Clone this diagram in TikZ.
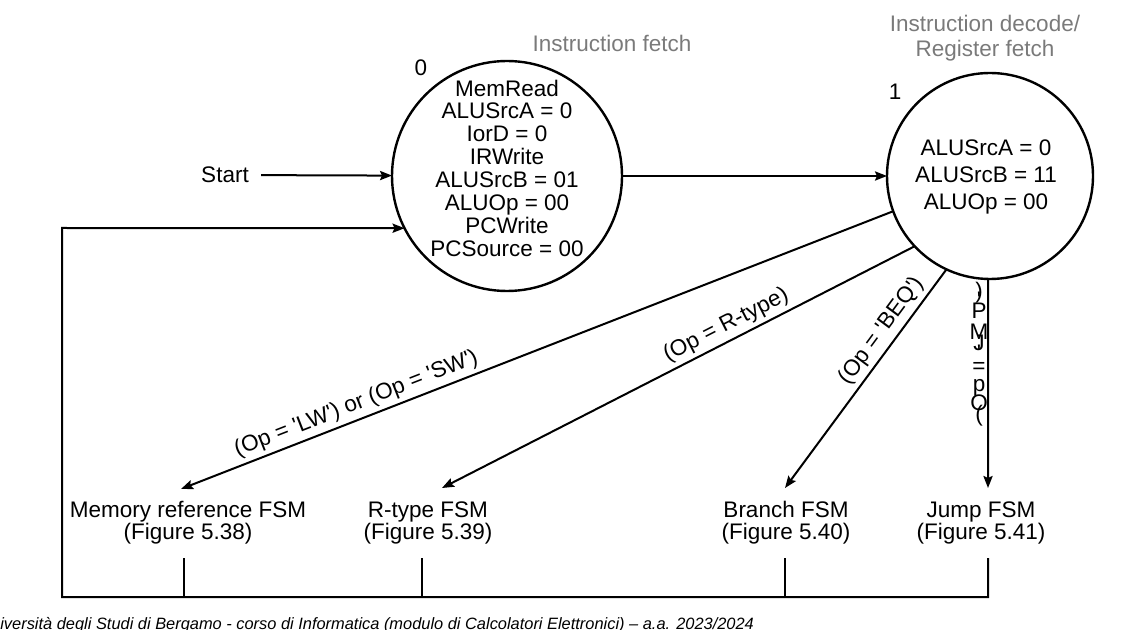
\documentclass[tikz,border=0pt]{standalone}
\usepackage{fontspec}
\setmainfont{Liberation Sans}
\usetikzlibrary{arrows.meta}
\begin{document}
\begin{tikzpicture}[x=0.5pt,y=-0.5pt,
  txt/.style={font=\fontsize{11.25}{11.4}\selectfont, inner sep=0pt, align=center},
  statebox/.style={circle, draw, line width=1.2pt, inner sep=0pt, outer sep=0pt},
  conn/.style={line width=1pt, -{Stealth[length=6pt,width=4.6pt,inset=1pt]}},
  wire/.style={line width=1pt},
  cond/.style={font=\fontsize{11.25}{11.4}\selectfont, inner sep=2pt, sloped, above},
  phase/.style={font=\fontsize{11.25}{12.5}\selectfont, text=black!52, align=center, inner sep=0pt},
]
\useasboundingbox (0,0) rectangle (1124,630);

% states
\node[statebox, minimum size=115pt] (s0) at (507,176) {};
\node[statebox, minimum size=103pt] (s1) at (990,176) {};
\node[txt, font=\fontsize{11.25}{11.43}\selectfont] (t0) at (507,168)
  {MemRead\\ALUSrcA = 0\\IorD = 0\\IRWrite\\ALUSrcB = 01\\ALUOp = 00\\PCWrite\\PCSource = 00};
\node[txt, font=\fontsize{11.25}{13.35}\selectfont] (t1) at (986,177)
  {ALUSrcA = 0\\ALUSrcB = 11\\ALUOp = 00};
\node[txt] (n0) at (421,68) {0};
\node[txt] (n1) at (895,92) {1};
\node[phase] (ph0) at (612,43) {Instruction fetch};
\node[phase] (ph1) at (985,38) {Instruction decode/\\Register fetch};

% start
\node[txt] (start) at (225,175) {Start};
\draw[conn, shorten <=6pt] (start) -- (s0);
\draw[conn] (s0) -- (s1);

% targets
\coordinate (tMem) at (181,489);
\coordinate (tR) at (442,488);
\coordinate (tB) at (785,488);
\coordinate (tJ) at (988,488);

\draw[conn] (s1.200) -- node[cond, pos=0.746] (lw) {(Op = \textquotesingle LW\textquotesingle) or (Op = \textquotesingle SW\textquotesingle)} (tMem);
\draw[conn] (s1.223) -- node[cond, pos=0.384] (lr) {(Op = R-type)} (tR);
\draw[conn] (s1.245) -- node[cond, pos=0.323] (lb) {(Op = \textquotesingle BEQ\textquotesingle)} (tB);
\draw[conn] (s1.269) -- (tJ);
\foreach \c/\yy [count=\k] in {{(}/416, O/403, p/388, {=}/368, \textquotesingle/353, J/343, M/332, P/311, \textquotesingle/300, {)}/293}
  \node[txt] (jl\k) at (979,\yy) {\c};

% sub-FSM labels
\node[txt, font=\fontsize{11.25}{11}\selectfont] (fMem) at (188,523) {Memory reference FSM\\(Figure 5.38)};
\node[txt, font=\fontsize{11.25}{11}\selectfont] (fR) at (428,523) {R-type FSM\\(Figure 5.39)};
\node[txt, font=\fontsize{11.25}{11}\selectfont] (fB) at (786,523) {Branch FSM\\(Figure 5.40)};
\node[txt, font=\fontsize{11.25}{11}\selectfont] (fJ) at (981,523) {Jump FSM\\(Figure 5.41)};

% return wires
\coordinate (dMem) at (184,558); \coordinate (bMem) at (184,597);
\coordinate (dR) at (422,558);   \coordinate (bR) at (422,597);
\coordinate (dB) at (785,558);   \coordinate (bB) at (785,597);
\coordinate (dJ) at (988,558);   \coordinate (bJ) at (988,597);
\coordinate (bL) at (62,597);    \coordinate (cL) at (62,228);
\draw[wire] (dMem) -- (bMem);
\draw[wire] (dR) -- (bR);
\draw[wire] (dB) -- (bB);
\draw[conn] (dJ) -- (bJ) -- (bL) -- (cL) -- (s0.207);

% footer
\node[font=\itshape\fontsize{8.2}{9}\selectfont, anchor=base west, inner sep=0pt] (foot) at (-21,629)
  {Università degli Studi di Bergamo - corso di Informatica (modulo di Calcolatori Elettronici) – a.a. 2023/2024};
\end{tikzpicture}
\end{document}
